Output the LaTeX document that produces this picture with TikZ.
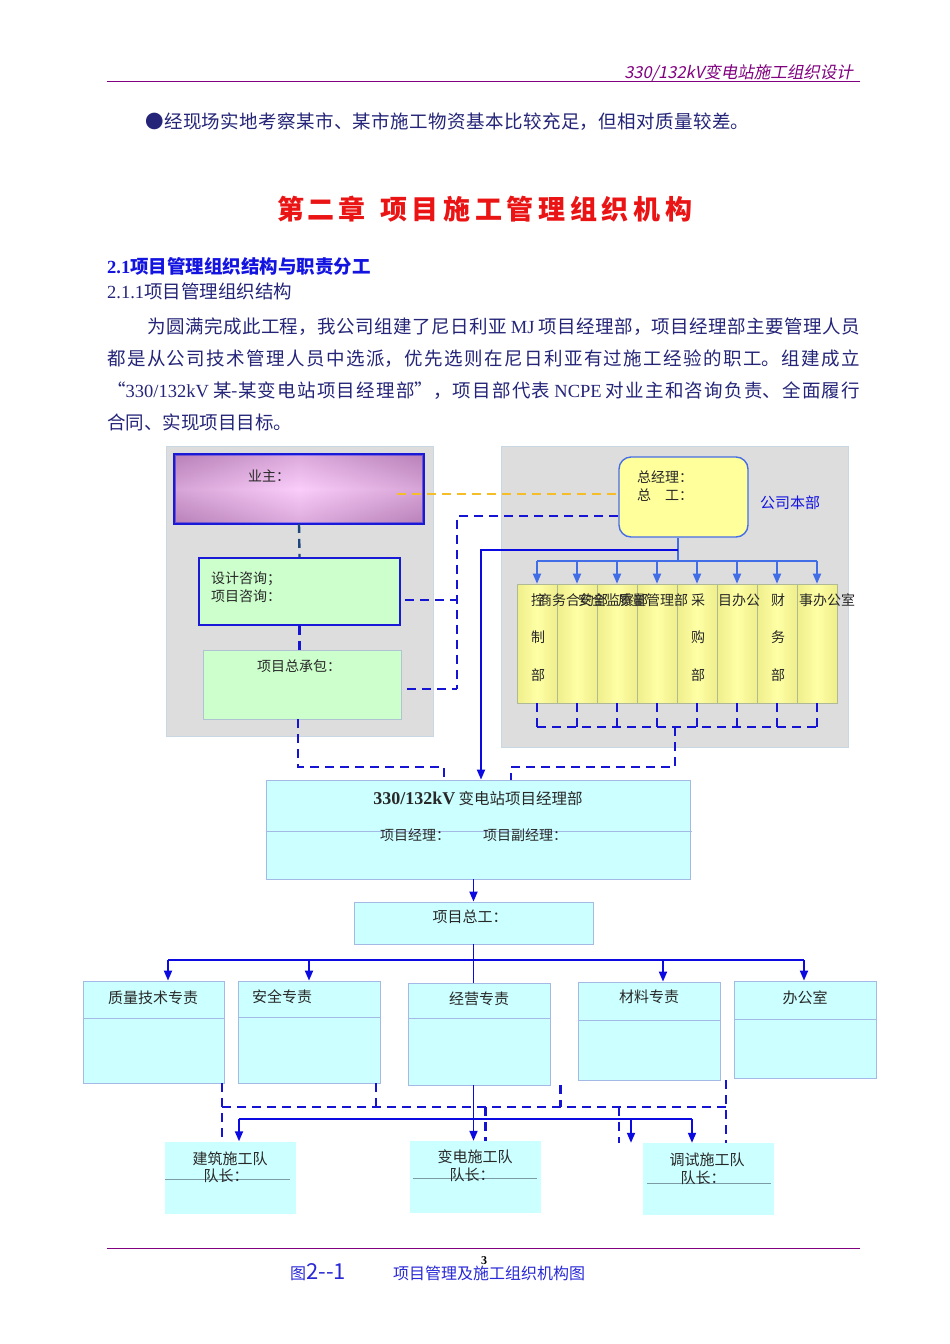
\documentclass[tikz,border=0pt]{standalone}
\usepackage{fontspec}
\setmainfont{Liberation Serif}
\newfontfamily\cjk[AutoFakeSlant=0.2]{Noto Sans CJK SC}
\usetikzlibrary{positioning, arrows.meta}
\definecolor{HdPurple}{RGB}{128,0,128}
\definecolor{BodyNavy}{RGB}{36,36,120}
\definecolor{TitleRed}{RGB}{235,20,20}
\definecolor{HeadBlue}{RGB}{20,20,225}
\definecolor{PanelGray}{RGB}{221,221,221}
\definecolor{PanelEdge}{RGB}{200,215,225}
\definecolor{OwnerEdge}{RGB}{185,130,185}
\definecolor{OwnerMid}{RGB}{250,205,250}
\definecolor{BoxBlue}{RGB}{25,25,215}
\definecolor{MintFill}{RGB}{204,255,204}
\definecolor{MintEdge}{RGB}{175,195,210}
\definecolor{GmFill}{RGB}{255,255,155}
\definecolor{GmEdge}{RGB}{70,110,230}
\definecolor{ColFill}{RGB}{255,255,165}
\definecolor{ColSide}{RGB}{238,238,140}
\definecolor{ColEdge}{RGB}{175,185,150}
\definecolor{CyanFill}{RGB}{204,255,255}
\definecolor{CyanEdge}{RGB}{165,185,230}
\definecolor{TeamLine}{RGB}{125,155,165}
\definecolor{LinkBlue}{RGB}{10,10,225}
\definecolor{HqBlue}{RGB}{65,110,230}
\definecolor{DashBlue}{RGB}{20,20,210}
\definecolor{DashNavy}{RGB}{30,70,125}
\definecolor{DashGold}{RGB}{245,190,40}
\definecolor{LabelInk}{RGB}{40,40,40}
\definecolor{CapBlue}{RGB}{40,40,215}
\newcommand{\fsize}[1]{\fontsize{#1pt}{#1pt}\selectfont}
\newcommand{\spreadline}[2]{\parbox[t]{#1}{\XeTeXlinebreaklocale "zh"\XeTeXlinebreakskip=0pt plus 1fil\relax\parfillskip=0pt\relax #2}}

\begin{document}
\begin{tikzpicture}[x=1pt, y=-1pt,
          txt/.style={inner sep=0pt, anchor=base west},
          lbl/.style={inner sep=0pt, anchor=base, text=LabelInk, font=\cjk\fsize{14}},
          panel/.style={draw=PanelEdge, fill=PanelGray, line width=0.8pt, inner sep=0pt},
          colbox/.style={draw=ColEdge, left color=ColSide, right color=ColSide, middle color=ColFill,
                         line width=0.6pt, minimum width=40pt, minimum height=119pt, inner sep=0pt},
          cyanbox/.style={draw=CyanEdge, fill=CyanFill, line width=0.8pt, inner sep=0pt},
          teambox/.style={fill=CyanFill, minimum width=131pt, minimum height=72pt, inner sep=0pt},
          divln/.style={draw=CyanEdge, line width=0.8pt},
          teamln/.style={draw=TeamLine, line width=0.8pt},
          solidln/.style={draw=LinkBlue, line width=1.8pt},
          arr/.style={-{Triangle[length=10pt,width=8pt]}, draw=LinkBlue, line width=1.8pt},
          hqln/.style={draw=HqBlue, line width=1.8pt},
          hqarr/.style={-{Triangle[length=10pt,width=8pt]}, draw=HqBlue, line width=1.8pt},
          dashb/.style={draw=DashBlue, line width=2.4pt, dash pattern=on 9pt off 6pt},
          dashn/.style={draw=DashNavy, line width=2.4pt, dash pattern=on 9pt off 6pt},
          dashg/.style={draw=DashGold, line width=2.4pt, dash pattern=on 9pt off 6pt}
        ]
        \useasboundingbox (0,0) rectangle (950,1344);

        % page text
        \node[txt, anchor=base east, text=HdPurple, font=\cjk\itshape\fsize{16.5}] (runhead) at (853,78)
              {330/132kV变电站施工组织设计};
        \draw[HdPurple, line width=1pt] (107,81) -- (860,81);
        \node[txt, text=BodyNavy, font=\cjk\fsize{18.5}] (bullet) at (145,128)
              {\spreadline{604pt}{●经现场实地考察某市、某市施工物资基本比较充足，但相对质量较差。}};
        \node[txt, text=TitleRed, font=\cjk\bfseries\fsize{27}] (chapA) at (277,219)
              {\spreadline{88pt}{第二章}};
        \node[txt, text=TitleRed, font=\cjk\bfseries\fsize{27}] (chapB) at (380,219)
              {\spreadline{312pt}{项目施工管理组织机构}};
        \node[txt, text=HeadBlue, font=\cjk\bfseries\fsize{18.5}] (sec) at (107,273)
              {{\rmfamily 2.1}项目管理组织结构与职责分工};
        \node[txt, text=BodyNavy, font=\cjk\fsize{18.5}] (subsec) at (107,298)
              {{\rmfamily 2.1.1}项目管理组织结构};
        \node[txt, text=BodyNavy, font=\cjk\fsize{18.5}] (para1) at (147,333)
              {\spreadline{713pt}{为圆满完成此工程，我公司组建了尼日利亚 {\rmfamily MJ} 项目经理部，项目经理部主要管理人员}};
        \node[txt, text=BodyNavy, font=\cjk\fsize{18.5}] (para2) at (107,365)
              {\spreadline{753pt}{都是从公司技术管理人员中选派，优先选则在尼日利亚有过施工经验的职工。组建成立}};
        \node[txt, text=BodyNavy, font=\cjk\fsize{18.5}] (para3) at (107,397)
              {\spreadline{753pt}{“{\rmfamily 330/132kV} 某-某变电站项目经理部”，项目部代表 {\rmfamily NCPE} 对业主和咨询负责、全面履行}};
        \node[txt, text=BodyNavy, font=\cjk\fsize{18.5}] (para4) at (107,429) {合同、实现项目目标。};

        % owner side
        \node[panel, minimum width=267pt, minimum height=290pt] (panL) at (299.5,591) {};
        \node[panel, minimum width=347pt, minimum height=301pt] (panR) at (674.5,596.5) {};
        \node[draw=BoxBlue, line width=1.6pt, top color=OwnerEdge, bottom color=OwnerEdge, middle color=OwnerMid,
              minimum width=248pt, minimum height=68pt, inner sep=0pt] (owner) at (299,489) {};
        \shade[left color=OwnerEdge, right color=OwnerEdge, middle color=OwnerMid, opacity=0.55]
              (owner.north west) rectangle (owner.south east);
        \draw[BoxBlue, line width=1.6pt] (owner.north west) rectangle (owner.south east);
        \node[draw=BoxBlue, line width=1.6pt, fill=MintFill, minimum width=201pt, minimum height=67pt,
              inner sep=0pt] (design) at (299.5,591.5) {};
        \node[draw=MintEdge, line width=0.8pt, fill=MintFill, minimum width=198pt, minimum height=69pt,
              inner sep=0pt] (contract) at (302,684.5) {};
        \node[lbl, anchor=base west] (ownerT) at (248,481) {业主：};
        \node[lbl, anchor=base west] (designA) at (211,583) {设计咨询；};
        \node[lbl, anchor=base west] (designB) at (211,601) {项目咨询：};
        \node[lbl] (contractT) at (299,671) {项目总承包：};

        % company headquarters
        \node[draw=GmEdge, line width=1.4pt, fill=GmFill, rounded corners=12pt, minimum width=129pt,
              minimum height=80pt, inner sep=0pt] (gm) at (683.5,497) {};
        \node[lbl, anchor=base west] (gmA) at (637,482) {总经理：};
        \node[lbl, anchor=base west] (gmB) at (637,500) {总　工：};
        \node[lbl, text=HeadBlue, font=\cjk\fsize{15}] (hqT) at (790,508) {公司本部};
        \node[colbox] (c1) at (537,643.5) {};
        \node[colbox] (c2) at (577,643.5) {};
        \node[colbox] (c3) at (617,643.5) {};
        \node[colbox] (c4) at (657,643.5) {};
        \node[colbox] (c5) at (697,643.5) {};
        \node[colbox] (c6) at (737,643.5) {};
        \node[colbox] (c7) at (777,643.5) {};
        \node[colbox] (c8) at (817,643.5) {};
        \node[lbl] (c1a) at (538,605) {控};
        \node[lbl] (c1b) at (538,642) {制};
        \node[lbl] (c1c) at (538,680) {部};
        \node[lbl, anchor=base west] (c2t) at (538,605) {商务合约部};
        \node[lbl, anchor=base west] (c3t) at (578,605) {安全监察部};
        \node[lbl, anchor=base west] (c4t) at (618,605) {质量管理部};
        \node[lbl] (c5a) at (698,605) {采};
        \node[lbl] (c5b) at (698,642) {购};
        \node[lbl] (c5c) at (698,680) {部};
        \node[lbl, anchor=base west] (c6t) at (718,605) {目办公};
        \node[lbl] (c7a) at (778,605) {财};
        \node[lbl] (c7b) at (778,642) {务};
        \node[lbl] (c7c) at (778,680) {部};
        \node[lbl, anchor=base west] (c8t) at (799,605) {事办公室};

        % project department
        \node[cyanbox, minimum width=424pt, minimum height=99pt] (pm) at (478,829.5) {};
        \draw[divln] ([yshift=-1.5]pm.west) -- ([xshift=2,yshift=-1.5]pm.east);
        \node[lbl, font=\cjk\fsize{15.5}] (pmT) at (478,804)
              {{\rmfamily\bfseries\fsize{18}330/132kV} 变电站项目经理部};
        \node[lbl, anchor=base west] (pmA) at (380,840) {项目经理：};
        \node[lbl, anchor=base west] (pmB) at (483,840) {项目副经理：};
        \node[cyanbox, minimum width=239pt, minimum height=42pt] (chief) at (473.5,923) {};
        \node[lbl, font=\cjk\fsize{15}] (chiefT) at (470,922) {项目总工：};

        % duty staff
        \node[cyanbox, minimum width=141pt, minimum height=102pt] (d1) at (153.5,1032) {};
        \node[cyanbox, minimum width=142pt, minimum height=102pt] (d2) at (309,1032) {};
        \node[cyanbox, minimum width=142pt, minimum height=102pt] (d3) at (479,1034) {};
        \node[cyanbox, minimum width=142pt, minimum height=98pt] (d4) at (649,1031) {};
        \node[cyanbox, minimum width=142pt, minimum height=97pt] (d5) at (805,1029.5) {};
        \draw[divln] ([yshift=-38]d1.north west) -- ([yshift=-38]d1.north east);
        \draw[divln] ([yshift=-37]d2.north west) -- ([yshift=-37]d2.north east);
        \draw[divln] ([yshift=-36]d3.north west) -- ([yshift=-36]d3.north east);
        \draw[divln] ([yshift=-39]d4.north west) -- ([yshift=-39]d4.north east);
        \draw[divln] ([yshift=-39]d5.north west) -- ([yshift=-39]d5.north east);
        \node[lbl, font=\cjk\fsize{15}] (d1T) at (153,1003) {质量技术专责};
        \node[lbl, font=\cjk\fsize{15}] (d2T) at (282,1002) {安全专责};
        \node[lbl, font=\cjk\fsize{15}] (d3T) at (479,1004) {经营专责};
        \node[lbl, font=\cjk\fsize{15}] (d4T) at (649,1002) {材料专责};
        \node[lbl, font=\cjk\fsize{15}] (d5T) at (805,1003) {办公室};

        % work teams
        \node[teambox] (t1) at (230.5,1177.5) {};
        \node[teambox] (t2) at (475.5,1177) {};
        \node[teambox] (t3) at (708.5,1179) {};
        \draw[teamln] ([yshift=-38]t1.north west) -- ([xshift=-6,yshift=-38]t1.north east);
        \draw[teamln] ([xshift=3,yshift=-38]t2.north west) -- ([xshift=-4,yshift=-38]t2.north east);
        \draw[teamln] ([xshift=4,yshift=-41]t3.north west) -- ([xshift=-3,yshift=-41]t3.north east);
        \node[lbl, font=\cjk\fsize{15}] (t1A) at (230,1164) {建筑施工队};
        \node[lbl, font=\cjk\fsize{15}] (t1B) at (226,1181) {队长：};
        \node[lbl, font=\cjk\fsize{15}] (t2A) at (475,1162) {变电施工队};
        \node[lbl, font=\cjk\fsize{15}] (t2B) at (472,1180) {队长：};
        \node[lbl, font=\cjk\fsize{15}] (t3A) at (707,1165) {调试施工队};
        \node[lbl, font=\cjk\fsize{15}] (t3B) at (703,1183) {队长：};

        % links of the upper part
        \coordinate (ylink) at (397,494);
        \coordinate (lk1) at (457,516);
        \coordinate (lk2) at (457,689);
        \coordinate (lk4) at (298,767);
        \coordinate (rk1) at (675,727);
        \coordinate (rk2) at (675,767);
        \coordinate (hq1) at (678,550);
        \coordinate (hq2) at (678,561);
        \draw[dashg] (ylink) -- (ylink -| gm.west);
        \draw[dashn] (owner.south) -- (design.north);
        \draw[dashb] (design.south) -- (design.south |- contract.north);
        \draw[dashb] (gm.west |- lk1) -- (lk1) -- (lk2);
        \draw[dashb] ([xshift=4,yshift=-8.5]design.east) -- ([yshift=-8.5]design.east -| lk1);
        \draw[dashb] ([xshift=6,yshift=-4.5]contract.east) -- (lk2);
        \draw[dashb] (contract.south -| lk4) -- (lk4) -| ([xshift=-34]pm.north);
        \draw[dashb] (c1.south) -- (c1.south |- rk1);
        \draw[dashb] (c2.south) -- (c2.south |- rk1);
        \draw[dashb] (c3.south) -- (c3.south |- rk1);
        \draw[dashb] (c4.south) -- (c4.south |- rk1);
        \draw[dashb] (c5.south) -- (c5.south |- rk1);
        \draw[dashb] (c6.south) -- (c6.south |- rk1);
        \draw[dashb] (c7.south) -- (c7.south |- rk1);
        \draw[dashb] (c8.south) -- (c8.south |- rk1);
        \draw[dashb] (c1.south |- rk1) -- (c8.south |- rk1);
        \draw[dashb] (rk1) -- (rk2) -| ([xshift=33]pm.north);
        \draw[hqln] (gm.south -| hq1) -- (hq2);
        \draw[hqln] (c1.north |- hq2) -- (c8.north |- hq2);
        \draw[hqarr] (c1.north |- hq2) -- (c1.north);
        \draw[hqarr] (c2.north |- hq2) -- (c2.north);
        \draw[hqarr] (c3.north |- hq2) -- (c3.north);
        \draw[hqarr] (c4.north |- hq2) -- (c4.north);
        \draw[hqarr] (c5.north |- hq2) -- (c5.north);
        \draw[hqarr] (c6.north |- hq2) -- (c6.north);
        \draw[hqarr] (c7.north |- hq2) -- (c7.north);
        \draw[hqarr] (c8.north |- hq2) -- (c8.north);
        \draw[arr] (hq1) -| ([xshift=3]pm.north);

        % links of the lower part
        \coordinate (b1) at (168,960);
        \coordinate (b2) at (804,960);
        \coordinate (tb1) at (239,1119);
        \coordinate (tb2) at (692,1119);
        \coordinate (tb3) at (631,1119);
        \coordinate (db1) at (222,1107);
        \coordinate (db2) at (726,1107);
        \draw[arr] (chief.north |- pm.south) -- (chief.north);
        \draw[solidln] (chief.south) -- (chief.south |- d3.north);
        \draw[solidln] (b1) -- (b2);
        \draw[arr] (b1) -- (b1 |- d1.north);
        \draw[arr] (d2.north |- b1) -- (d2.north);
        \draw[arr] ([xshift=14]d4.north |- b1) -- ([xshift=14]d4.north);
        \draw[arr] (b2) -- (b2 |- d5.north);
        \draw[dashb] (d1.south -| db1) -- (db1 |- t1.north);
        \draw[dashb] ([xshift=67]d2.south) -- ([xshift=67]d2.south |- db1);
        \draw[dashb] ([xshift=10]d3.south east) -- ([xshift=10]d3.south east |- db1);
        \draw[dashb] (db2 |- d4.south) -- (db2 |- t3.north);
        \draw[dashb] (db1) -- (db2);
        \draw[dashb] ([xshift=10]t2.north |- db1) -- ([xshift=10]t2.north);
        \draw[dashb] ([xshift=-24]t3.north west |- db1) -- ([xshift=-24]t3.north west);
        \draw[solidln] (chief.south |- d3.south) -- (chief.south |- tb1);
        \draw[solidln] (tb1) -- (tb2);
        \draw[arr] (tb1) -- (tb1 |- t1.north);
        \draw[arr] (chief.south |- tb1) -- (chief.south |- t2.north);
        \draw[arr] (tb3) -- (tb3 |- t3.north);
        \draw[arr] (tb2) -- (tb2 |- t3.north);

        % footer
        \draw[HdPurple, line width=1pt] (107,1248) -- (860,1248);
        \node[inner sep=0pt, anchor=base, font=\rmfamily\bfseries\fsize{12}] (pgno) at (484,1264) {3};
        \node[txt, text=CapBlue, font=\cjk\fsize{16}] (capfig) at (290,1279) {图{\fsize{22}2-{}-1}};
        \node[txt, text=CapBlue, font=\cjk\fsize{16}] (captxt) at (393,1279) {项目管理及施工组织机构图};
      \end{tikzpicture}
\end{document}
